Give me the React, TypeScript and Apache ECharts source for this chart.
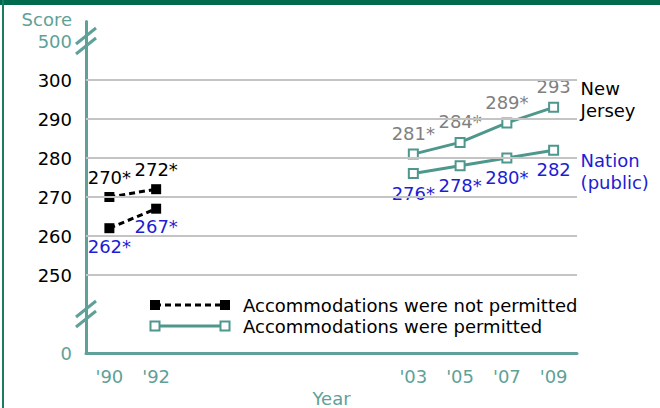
import React, { useEffect, useRef } from 'react';
import * as echarts from 'echarts';

// ---- data ----
const yearsEarly = [1990, 1992];
const yearsLate = [2003, 2005, 2007, 2009];
const njNotPermitted = [270, 272];
const njNotPermittedSig = [true, true];
const nationNotPermitted = [262, 267];
const nationNotPermittedSig = [true, true];
const njPermitted = [281, 284, 289, 293];
const njPermittedSig = [true, true, true, false];
const nationPermitted = [276, 278, 280, 282];
const nationPermittedSig = [true, true, true, false];
const yearTickValues = [1990, 1992, 2003, 2005, 2007, 2009];
const yearTickLabels = ["'90", "'92", "'03", "'05", "'07", "'09"];
const scoreGridValues = [250, 260, 270, 280, 290, 300];
// broken axis: display positions standing for the real scale ends
const scoreBreakTicks = [230, 310];
const scoreBreakLabels = ['0', '500'];
const legendLabels = ['Accommodations were not permitted', 'Accommodations were permitted'];
const jurisdictionLabels = ['New\nJersey', 'Nation\n(public)'];

const FONT = 'DejaVu Sans';
const TEAL = '#4e978d';
const AXIS = '#5fa198';
const BLUE = '#1d1dd4';
const GRAY = '#808080';

const fmt = (v: number, sig: boolean) => `${v}${sig ? '*' : ''}`;
const pairs = (xs: number[], ys: number[]) => xs.map((x, i) => [x, ys[i]]);

export default function App() {
  const ref = useRef<HTMLDivElement>(null);
  useEffect(() => {
    if (!ref.current) return;
    const chart = echarts.init(ref.current, null, { renderer: 'svg' });
    const labelBase = { show: true, fontSize: 18, fontFamily: FONT };
    const option: any = {
      animation: false,
      backgroundColor: '#fff',
      grid: { left: 86, right: 83, top: 21.5, bottom: 55, containLabel: false, outerBoundsMode: 'none' },
      xAxis: {
        type: 'value',
        min: 1989,
        max: 2010,
        interval: 1,
        name: 'Year',
        nameLocation: 'middle',
        nameGap: 35,
        nameTextStyle: { color: AXIS, fontSize: 18, fontFamily: FONT },
        axisLine: { show: true, lineStyle: { color: AXIS, width: 3 } },
        axisTick: { show: false },
        splitLine: { show: false },
        axisLabel: {
          margin: 14,
          color: AXIS,
          fontSize: 18,
          fontFamily: FONT,
          formatter: (v: number) => {
            const i = yearTickValues.indexOf(v);
            return i >= 0 ? yearTickLabels[i] : '';
          },
        },
      },
      yAxis: {
        type: 'value',
        min: 230,
        max: 315,
        interval: 5,
        name: 'Score',
        nameLocation: 'end',
        nameGap: 2,
        nameTextStyle: {
          color: AXIS, fontSize: 18, lineHeight: 18, fontFamily: FONT, align: 'right', verticalAlign: 'middle',
          padding: [0, 14, 0, 0],
        },
        axisLine: { show: true, lineStyle: { color: AXIS, width: 3 } },
        axisTick: { show: false },
        splitLine: { show: false },
        axisLabel: {
          margin: 14,
          fontSize: 18,
          lineHeight: 18,
          fontFamily: FONT,
          color: (v: any) => (scoreBreakTicks.indexOf(Number(v)) >= 0 ? AXIS : '#000'),
          formatter: (v: number) => {
            const b = scoreBreakTicks.indexOf(v);
            if (b >= 0) return scoreBreakLabels[b];
            return scoreGridValues.indexOf(v) >= 0 ? String(v) : '';
          },
        },
      },
      series: [
        {
          type: 'line',
          data: [],
          z: 1,
          silent: true,
          markLine: {
            silent: true,
            symbol: 'none',
            label: { show: false },
            lineStyle: { color: '#c4c4c4', width: 2, type: 'solid' },
            data: scoreGridValues.map((v) => ({ yAxis: v })),
          },
        },
        {
          type: 'line',
          z: 3,
          data: pairs(yearsEarly, njNotPermitted),
          symbol: 'rect',
          symbolSize: 10,
          itemStyle: { color: '#000' },
          lineStyle: { color: '#000', width: 3, type: [6, 4] },
          label: {
            ...labelBase, position: 'top', distance: 6, color: '#000',
            formatter: (p: any) => fmt(p.data[1], njNotPermittedSig[p.dataIndex]),
          },
        },
        {
          type: 'line',
          z: 3,
          data: pairs(yearsEarly, nationNotPermitted),
          symbol: 'rect',
          symbolSize: 10,
          itemStyle: { color: '#000' },
          lineStyle: { color: '#000', width: 3, type: [6, 4] },
          label: {
            ...labelBase, position: 'bottom', distance: 4, color: BLUE,
            formatter: (p: any) => fmt(p.data[1], nationNotPermittedSig[p.dataIndex]),
          },
        },
        {
          type: 'line',
          z: 3,
          data: pairs(yearsLate, njPermitted),
          symbol: 'rect',
          symbolSize: 9,
          itemStyle: { color: '#fff', borderColor: TEAL, borderWidth: 2 },
          lineStyle: { color: TEAL, width: 3 },
          label: {
            ...labelBase, position: 'top', distance: 6, color: GRAY,
            formatter: (p: any) => fmt(p.data[1], njPermittedSig[p.dataIndex]),
          },
          endLabel: {
            show: true, formatter: jurisdictionLabels[0], color: '#000', fontSize: 18, fontFamily: FONT,
            lineHeight: 22, distance: 27, offset: [0, -8], align: 'left',
          },
        },
        {
          type: 'line',
          z: 3,
          data: pairs(yearsLate, nationPermitted),
          symbol: 'rect',
          symbolSize: 9,
          itemStyle: { color: '#fff', borderColor: TEAL, borderWidth: 2 },
          lineStyle: { color: TEAL, width: 3 },
          label: {
            ...labelBase, position: 'bottom', distance: 5, color: BLUE,
            formatter: (p: any) => fmt(p.data[1], nationPermittedSig[p.dataIndex]),
          },
          endLabel: {
            show: true, formatter: jurisdictionLabels[1], color: BLUE, fontSize: 18, fontFamily: FONT,
            lineHeight: 22, distance: 27, offset: [0, 21], align: 'left',
          },
        },
      ],
    };
    chart.setOption(option);

    // axis break marks, placed from the axis scale
    const breakMark = (v: number) => {
      const [px, py] = chart.convertToPixel({ gridIndex: 0 }, [1989, v]) as number[];
      const st = { stroke: AXIS, lineWidth: 3 };
      return [
        { type: 'line', z: 10, shape: { x1: px - 10, y1: py + 3, x2: px + 10, y2: py - 13 }, style: st },
        { type: 'line', z: 10, shape: { x1: px - 10, y1: py + 13, x2: px + 10, y2: py - 3 }, style: st },
      ];
    };
    const legendRow = (y: number, i: number) => {
      const solid = i === 1;
      const sq = (x: number) =>
        solid
          ? { type: 'rect', shape: { x: x - 4.5, y: y - 4.5, width: 9, height: 9 }, style: { fill: '#fff', stroke: TEAL, lineWidth: 2 } }
          : { type: 'rect', shape: { x: x - 5, y: y - 5, width: 10, height: 10 }, style: { fill: '#000' } };
      return [
        {
          type: 'line',
          shape: { x1: 155, y1: y, x2: 225, y2: y },
          style: solid ? { stroke: TEAL, lineWidth: 3 } : { stroke: '#000', lineWidth: 3, lineDash: [6, 4] },
        },
        sq(155),
        sq(225),
        {
          type: 'text', x: 243, y,
          style: { text: legendLabels[i], fill: '#000', fontSize: 18, fontFamily: FONT, verticalAlign: 'middle' },
        },
      ];
    };
    chart.setOption({
      graphic: [
        { type: 'rect', shape: { x: 0, y: 0, width: 660, height: 5 }, style: { fill: '#006a4e' } },
        { type: 'rect', shape: { x: 2, y: 0, width: 2, height: 408 }, style: { fill: '#1d7a62' } },
        ...breakMark(310),
        ...breakMark(240),
        ...legendRow(305, 0),
        ...legendRow(326, 1),
      ],
    });
    return () => chart.dispose();
  }, []);
  return (
    <div
      ref={ref}
      style={{ position: 'fixed', left: 0, top: 0, width: 660, height: 408, background: '#fff' }}
    />
  );
}
